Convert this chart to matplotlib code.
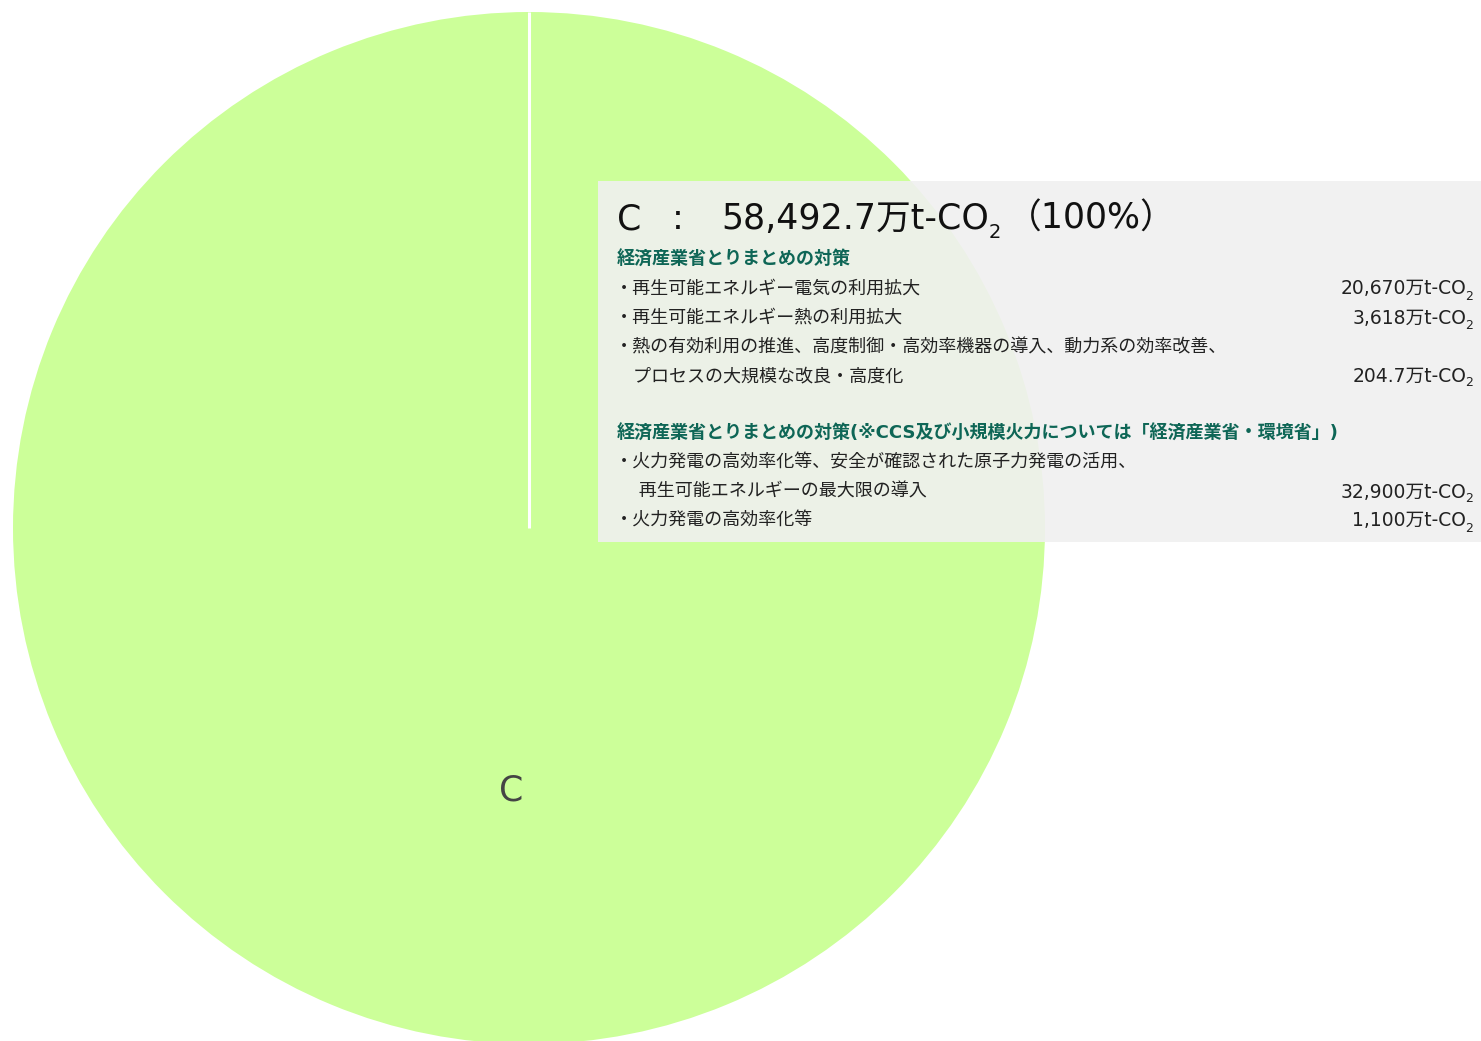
import numpy as np
import matplotlib
matplotlib.use("Agg")
import matplotlib.pyplot as plt
from matplotlib.patches import Rectangle

plt.rcParams['font.family'] = ['DejaVu Sans', 'Noto Sans CJK JP']

# ---- data -------------------------------------------------------------
category = ["C"]
group_titles = [
    "経済産業省とりまとめの対策",
    "経済産業省とりまとめの対策(※CCS及び小規模火力については「経済産業省・環境省」)",
]
# group index, text lines and value (万t-CO2) of every measure
measure_groups = [0, 0, 0, 1, 1]
measure_lines = [
    ["・再生可能エネルギー電気の利用拡大"],
    ["・再生可能エネルギー熱の利用拡大"],
    ["・熱の有効利用の推進、高度制御・高効率機器の導入、動力系の効率改善、",
     "　プロセスの大規模な改良・高度化"],
    ["・火力発電の高効率化等、安全が確認された原子力発電の活用、",
     "　 再生可能エネルギーの最大限の導入"],
    ["・火力発電の高効率化等"],
]
measure_values = [20670, 3618, 204.7, 32900, 1100]
value_labels = ["20,670", "3,618", "204.7", "32,900", "1,100"]
total_label = "58,492.7"
share_label = "100%"
slice_values = [sum(measure_values)]
slice_color = "#CCFF99"

W, H = 1481, 1041
fig = plt.figure(figsize=(W / 100, H / 100), dpi=100)
fig.patch.set_facecolor("white")
renderer = fig.canvas.get_renderer()

# pie axes: centre (529, 528) px, radius 516 px
cx, cy, r = 529, 528, 516
ax = fig.add_axes([(cx - r) / W, (H - cy - r) / H, 2 * r / W, 2 * r / H])
wedges, _ = ax.pie(slice_values, colors=[slice_color], startangle=90,
                   counterclock=False, radius=1.0,
                   wedgeprops=dict(linewidth=0))
# slice border from the centre to the start of the wedge
for w in wedges:
    a = np.deg2rad(w.theta1)
    ax.plot([w.center[0], w.center[0] + w.r * np.cos(a)],
            [w.center[1], w.center[1] + w.r * np.sin(a)],
            color="white", linewidth=2.2, solid_capstyle="butt")
ax.set_xlim(-1, 1)
ax.set_ylim(-1, 1)
ax.set_aspect("equal")
ax.axis("off")
ax.text(-0.035, -0.508, category[0], ha="center", va="center",
        fontsize=25, color="#444444")


def fx(x):
    return x / W


def fy(y):
    return 1 - y / H


def co2_text(x, y, main, size, sub_size, sub_dy, ha="left", color="#222222"):
    """Draw '<main>' followed by a lowered subscript 2; returns right edge px."""
    kw = dict(color=color, va="center", zorder=3)
    if ha == "left":
        t = fig.text(fx(x), fy(y), main, fontsize=size, **kw)
        x1 = t.get_window_extent(renderer).x1
        s = fig.text(fx(x1), fy(y + sub_dy), "2", fontsize=sub_size, **kw)
        return s.get_window_extent(renderer).x1
    s = fig.text(fx(x), fy(y + sub_dy), "2", fontsize=sub_size, ha="right", **kw)
    x0 = s.get_window_extent(renderer).x0
    fig.text(fx(x0 + 1), fy(y), main, fontsize=size, ha="right", **kw)
    return x


# tooltip panel
box = Rectangle((fx(598), fy(542)), fx(W) - fx(598) + 0.01, fy(181) - fy(542),
                transform=fig.transFigure, facecolor="#F0F0F0", alpha=0.9,
                edgecolor="none", zorder=2)
fig.add_artist(box)

title_kw = dict(fontsize=25, color="#111111", va="center", zorder=3)
fig.text(fx(617), fy(219), category[0], **title_kw)
fig.text(fx(672), fy(219), ":", **title_kw)
end = co2_text(721, 219, f"{total_label}万t-CO", 25, 14, 13, color="#111111")
fig.text(fx(end + 6), fy(219), f"（{share_label}）", **title_kw)

head_kw = dict(fontsize=13, color="#0E6656", fontweight="bold",
               va="center", zorder=3)
body_kw = dict(fontsize=13, color="#222222", va="center", zorder=3)

line_step = 29
y = 260
prev_group = None
for g, lines, vlab in zip(measure_groups, measure_lines, value_labels):
    if g != prev_group:
        if prev_group is not None:
            y += line_step
        fig.text(fx(617), fy(y), group_titles[g], **head_kw)
        y += line_step
        prev_group = g
    for i, ln in enumerate(lines):
        fig.text(fx(615), fy(y), ln, **body_kw)
        if i == len(lines) - 1:
            co2_text(1473, y, f"{vlab}万t-CO", 13.5, 9, 7, ha="right")
        y += line_step

fig.savefig("out.png", dpi=100)
